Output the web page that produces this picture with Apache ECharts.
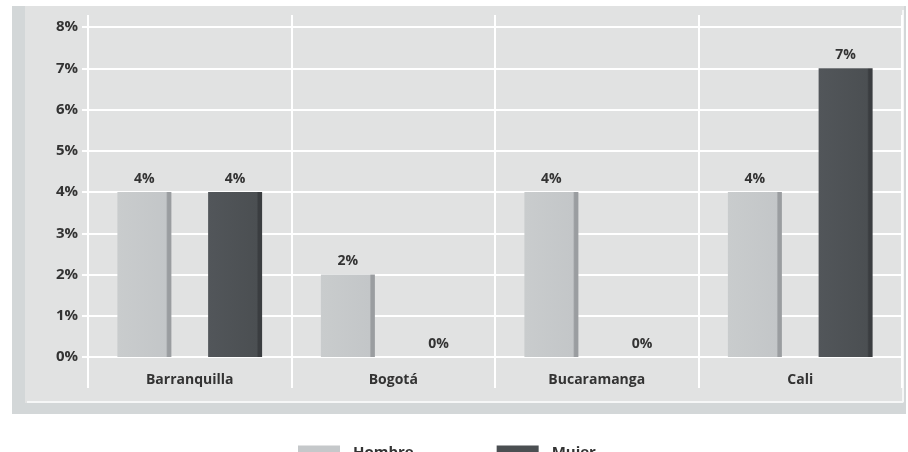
<!DOCTYPE html>
<html>
<head>
<meta charset="utf-8">
<script src="https://cdn.jsdelivr.net/npm/echarts@6/dist/echarts.min.js"></script>
<style>
  html, body { margin: 0; padding: 0; background: #ffffff; }
  #chart { width: 908px; height: 452px; }
</style>
</head>
<body>
<div id="chart"></div>
<script>
    // datos
    var ciudades = ['Barranquilla', 'Bogotá', 'Bucaramanga', 'Cali'];
    var hombre = [4, 2, 4, 4];
    var mujer = [4, 0, 0, 7];
    var ticksY = [0, 1, 2, 3, 4, 5, 6, 7, 8];

    function bevel(base, mid, edge) {
        return {
            type: 'linear', x: 0, y: 0, x2: 1, y2: 0,
            colorStops: [
                {offset: 0, color: base},
                {offset: 0.9, color: mid},
                {offset: 0.93, color: edge},
                {offset: 1, color: edge}
            ]
        };
    }

    var myChart = echarts.init(document.getElementById('chart'));
    var fuente = 'Open Sans';

    myChart.setOption({
        backgroundColor: '#ffffff',
        animation: false,
        graphic: [
            {type: 'rect', z: -20, silent: true, shape: {x: 12, y: 6, width: 894, height: 408}, style: {fill: '#d3d7d8'}},
            {type: 'rect', z: -19, silent: true, shape: {x: 25, y: 6, width: 879, height: 397}, style: {fill: '#e1e2e2'}},
            {type: 'line', z: -18, silent: true, shape: {x1: 27, y1: 402, x2: 903, y2: 402}, style: {stroke: '#f6f7f7', lineWidth: 2}},
            {type: 'line', z: -18, silent: true, shape: {x1: 903, y1: 10, x2: 903, y2: 402}, style: {stroke: '#f6f7f7', lineWidth: 2}}
        ],
        grid: {
            left: 88,
            right: 6,
            top: 27,
            bottom: 95
        },
        legend: {
            left: 293,
            top: 440,
            icon: 'rect',
            itemWidth: 42,
            itemHeight: 14,
            itemGap: 83,
            textStyle: {color: '#333', fontSize: 15, fontFamily: fuente, fontWeight: 'bold', padding: [0, 0, 0, 8]},
            data: [
                {name: 'Hombre', itemStyle: {color: '#c5c8ca'}},
                {name: 'Mujer', itemStyle: {color: '#4b4f52'}}
            ]
        },
        xAxis: [{
            type: 'category',
            data: ciudades,
            axisLine: {show: true, lineStyle: {color: '#ffffff', width: 2}},
            axisTick: {show: true, length: 31, lineStyle: {color: '#ffffff', width: 2}},
            splitLine: {show: true, lineStyle: {color: '#ffffff', width: 2}},
            axisLabel: {
                margin: 16,
                color: '#333',
                fontSize: 14,
                fontFamily: fuente,
                fontWeight: 'bold'
            }
        }, {
            type: 'category',
            position: 'top',
            data: ciudades,
            axisLine: {show: false},
            axisTick: {show: true, length: 12, lineStyle: {color: '#ffffff', width: 2}},
            axisLabel: {show: false}
        }],
        yAxis: {
            type: 'value',
            min: ticksY[0],
            max: ticksY[ticksY.length - 1],
            interval: 1,
            axisLine: {show: false},
            axisTick: {show: true, length: 6, lineStyle: {color: '#ffffff', width: 2}},
            splitLine: {show: true, lineStyle: {color: '#ffffff', width: 2}},
            axisLabel: {
                margin: 10,
                color: '#333',
                fontSize: 15,
                fontFamily: fuente,
                fontWeight: 'bold',
                formatter: '{value}%'
            }
        },
        series: [{
            name: 'Hombre',
            type: 'bar',
            data: hombre,
            barWidth: 54,
            barGap: '68%',
            itemStyle: {color: bevel('#c9cccd', '#c3c6c8', '#9a9da0')},
            label: {
                show: true, position: 'top', distance: 6,
                formatter: '{c}%', color: '#333', fontSize: 14, fontFamily: fuente, fontWeight: 'bold'
            }
        }, {
            name: 'Mujer',
            type: 'bar',
            data: mujer,
            barWidth: 54,
            itemStyle: {color: bevel('#52565a', '#4b4f52', '#3a3d40')},
            label: {
                show: true, position: 'top', distance: 6,
                formatter: '{c}%', color: '#333', fontSize: 14, fontFamily: fuente, fontWeight: 'bold'
            }
        }]
    });
</script>
</body>
</html>
